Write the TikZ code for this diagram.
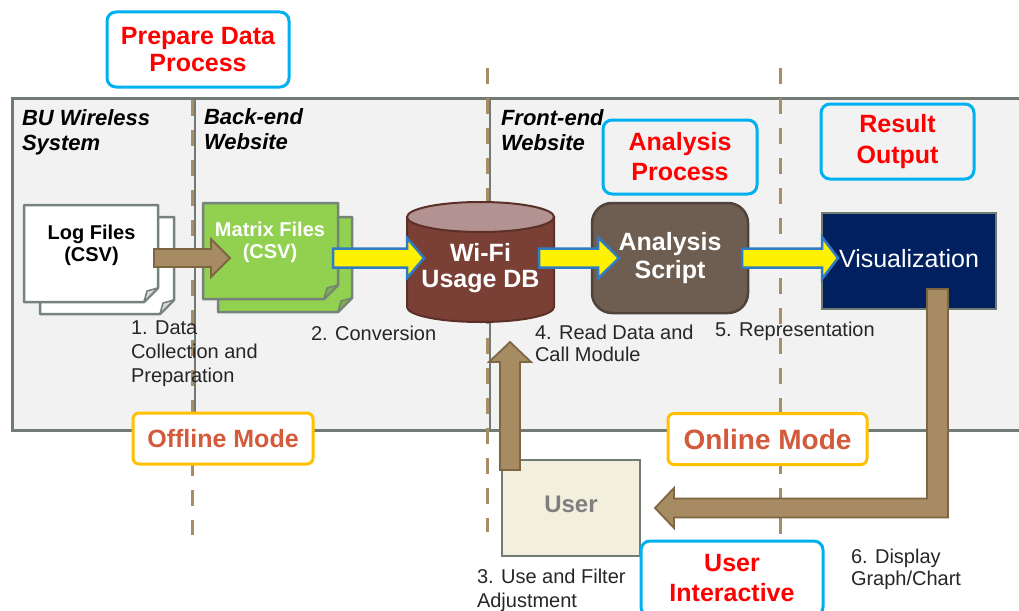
\documentclass[tikz,border=0pt]{standalone}
\usepackage{fontspec}
\setmainfont{Liberation Sans}
\usetikzlibrary{calc}
\definecolor{panelf}{HTML}{F2F2F2}
\definecolor{panelc}{HTML}{6F7B73}
\definecolor{dashc}{HTML}{A88D66}
\definecolor{tanc}{HTML}{A78B63}
\definecolor{tanb}{HTML}{7F6642}
\definecolor{bluec}{HTML}{2F7BC4}
\definecolor{cyanb}{HTML}{00B0F0}
\definecolor{orangeb}{HTML}{FFC000}
\definecolor{redt}{HTML}{FF0000}
\definecolor{modet}{HTML}{D45A3C}
\definecolor{greenf}{HTML}{92D050}
\definecolor{dbbody}{HTML}{7A4036}
\definecolor{dbtop}{HTML}{B39391}
\definecolor{dbline}{HTML}{5C3028}
\definecolor{scriptf}{HTML}{6E5E52}
\definecolor{scriptb}{HTML}{4F433B}
\definecolor{navyf}{HTML}{002060}
\definecolor{userf}{HTML}{F2EFDC}
\definecolor{usert}{HTML}{7F7F7F}
\definecolor{lblc}{HTML}{262626}
\definecolor{sheetc}{HTML}{76837B}
\tikzset{
  every node/.style={inner sep=0pt, outer sep=0pt},
  shapebox/.style={draw=none, rectangle},
  titlebox/.style={draw=cyanb, line width=3pt, rounded corners=9pt, text=redt, align=center},
  modebox/.style={draw=orangeb, fill=white, line width=3pt, rounded corners=6pt, text=modet},
  region/.style={font=\bfseries\itshape\fontsize{22}{25.5}\selectfont, align=left, anchor=north west},
  lbl/.style={text=lblc, align=left, anchor=north west},
  sheetline/.style={draw=sheetc, line width=2.5pt, line join=round},
  divgray/.style={draw=panelc, line width=2pt},
  divdash/.style={draw=dashc, line width=3.5pt, dash pattern=on 16pt off 14pt},
  yarrow/.style={fill=yellow, draw=bluec, line width=2.5pt, line join=miter},
  tarrow/.style={fill=tanc, draw=tanb, line width=1.8pt, line join=miter},
}
% folded sheet drawn on a named node
\newcommand\sheetdraw[2]{%
  \draw[sheetline, fill=#2] (#1.north west) -- (#1.north east) -- ([yshift=14pt]#1.south east)
     -- ([xshift=-14pt]#1.south east) -- (#1.south west) -- cycle;
  \draw[sheetline, fill=#2!85!black, line width=1.6pt] ([xshift=-14pt]#1.south east)
     .. controls ([xshift=-13pt,yshift=6pt]#1.south east) .. ([xshift=-11pt,yshift=11pt]#1.south east)
     .. controls ([xshift=-6pt,yshift=12pt]#1.south east) .. ([yshift=14pt]#1.south east) -- cycle;}
% right-pointing block arrow: style, start, tip, shaft half, head half, head length
\newcommand\rarrow[6]{%
  \path[#1] let \p1=(#2), \p2=(#3) in
    (\x1,{\y2+#4pt}) -- ({\x2-#6pt},{\y2+#4pt}) -- ({\x2-#6pt},{\y2+#5pt}) -- (\x2,\y2)
    -- ({\x2-#6pt},{\y2-#5pt}) -- ({\x2-#6pt},{\y2-#4pt}) -- (\x1,{\y2-#4pt}) -- cycle;}
\begin{document}
\begin{tikzpicture}[x=1pt,y=-1pt]
\useasboundingbox (0,0) rectangle (1019,610);
\clip (0,0) rectangle (1019,610);
% panel
\path[fill=panelf] (1030,98) rectangle (12,430);
\draw[draw=panelc, line width=3pt] (1030,98) -- (12,98) -- (12,430) -- (1030,430);
% dividers
\draw[divgray] (194.5,98) -- (194.5,430);
\draw[divgray] (489.5,98) -- (489.5,430);
\draw[divdash] (192.5,100) -- (192.5,535);
\draw[divdash] (487.7,68) -- (487.7,532);
\draw[divdash] (780.3,68) -- (780.3,537);

% title boxes
\node[titlebox, font=\bfseries\fontsize{25}{27}\selectfont, minimum width=182pt, minimum height=75pt] (prep) at (198,49.5) {Prepare Data\\Process};
\node[titlebox, font=\bfseries\fontsize{25}{30}\selectfont, minimum width=154pt, minimum height=74pt] (anal) at (680,157) {Analysis\\Process};
\node[titlebox, font=\bfseries\fontsize{25}{31}\selectfont, minimum width=153pt, minimum height=75pt] (result) at (897.5,141.5) {Result\\Output};

% region titles
\node[region] (bu) at (22,109.2) {BU Wireless\\System};
\node[region, font=\bfseries\itshape\fontsize{22}{25}\selectfont] (back) at (204,108.7) {Back-end\\Website};
\node[region, font=\bfseries\itshape\fontsize{22}{25}\selectfont] (front) at (501,109.2) {Front-end\\Website};

% file sheets
\node[shapebox, minimum width=134pt, minimum height=97pt, anchor=north west] (logb) at (40,217) {};
\node[shapebox, minimum width=134pt, minimum height=97pt, anchor=north west] (logf) at (24,205) {};
\node[shapebox, minimum width=134pt, minimum height=95pt, anchor=north west] (matb) at (218,217) {};
\node[shapebox, minimum width=135pt, minimum height=96pt, anchor=north west] (matf) at (203,203) {};
\sheetdraw{logb}{white}
\sheetdraw{logf}{white}
\sheetdraw{matb}{greenf}
\sheetdraw{matf}{greenf}
\node[font=\bfseries\fontsize{20}{22}\selectfont, align=center] (logtxt) at (91.5,245.7) {Log Files\\(CSV)};
\node[font=\bfseries\fontsize{20}{22}\selectfont, align=center, text=white] (mattxt) at (270,242) {Matrix Files\\(CSV)};

% database cylinder
\node[shapebox, minimum width=147pt, minimum height=120pt] (db) at (480.5,262) {};
\draw[draw=dbline, line width=2pt, fill=dbbody] ([yshift=-15pt]db.north west) -- ([yshift=15pt]db.south west)
   arc[start angle=180, end angle=360, x radius=73.5pt, y radius=15pt] -- ([yshift=-15pt]db.north east) -- cycle;
\draw[draw=dbline, line width=2pt, fill=dbtop] ([yshift=-15pt]db.north) ellipse [x radius=73.5pt, y radius=15pt];
\node[font=\bfseries\fontsize{25}{26}\selectfont, align=center, text=white] (dbtxt) at (480.5,268.5) {Wi-Fi\\Usage DB};

% analysis script
\node[draw=scriptb, fill=scriptf, line width=2.5pt, rounded corners=20pt, minimum width=156pt, minimum height=110pt,
      font=\bfseries\fontsize{25}{28}\selectfont, align=center, text=white] (script) at (670,258) {Analysis\\Script};

% visualization
\node[draw=panelc, fill=navyf, line width=2.5pt, minimum width=174pt, minimum height=96pt,
      font=\fontsize{25}{28}\selectfont, text=white, text depth=6pt] (vis) at (909,261) {Visualization};

% user
\node[draw=panelc, fill=userf, line width=2.5pt, minimum width=138pt, minimum height=96pt,
      font=\bfseries\fontsize{24}{28}\selectfont, text=usert, text depth=7pt] (user) at (571,508) {User};

% mode boxes
\node[modebox, font=\bfseries\fontsize{25}{28}\selectfont, minimum width=180pt, minimum height=51pt] (offline) at (223,438.5) {Offline Mode};
\node[modebox, font=\bfseries\fontsize{28}{30}\selectfont, minimum width=199pt, minimum height=51pt] (online) at (767.5,439) {Online Mode};

% user interactive box
\node[titlebox, fill=white, font=\bfseries\fontsize{25}{30}\selectfont, minimum width=182pt, minimum height=75pt] (ui) at (732,578.5) {User\\Interactive};

% arrows
\rarrow{tarrow}{$(logf.east)+(-4,4.5)$}{$(matf.west)+(27,7)$}{9}{19}{19}
\rarrow{yarrow}{$(matf.east)+(-5,0)$}{$(db.west)+(17,-4)$}{9.5}{20}{17}
\rarrow{yarrow}{$(db.east)+(-15,0)$}{$(script.west)+(27,0)$}{9.5}{20.5}{21}
\rarrow{yarrow}{$(script.east)+(-6,0)$}{$(vis.west)+(16,-3)$}{9.5}{21}{16}
\path[tarrow] let \p1=(vis.south), \p2=(user.east) in
  ({\x1+18pt},{\y1+20pt}) -- ({\x1+39pt},{\y1+20pt}) -- ({\x1+39pt},{\y2-9.5pt})
  -- ({\x2+34pt},{\y2-9.5pt}) -- ({\x2+34pt},{\y2-20pt}) -- ({\x2+15pt},\y2)
  -- ({\x2+34pt},{\y2+20pt}) -- ({\x2+34pt},{\y2+9.5pt}) -- ({\x1+18pt},{\y2+9.5pt}) -- cycle;
\path[tarrow] let \p1=(user.north west), \p2=(db.south) in
  ({\x1-2pt},{\y1-10pt}) -- ({\x1+18pt},{\y1-10pt}) -- ({\x1+18pt},{\y2-40pt})
  -- ({\x1+29pt},{\y2-40pt}) -- ({\x1+8pt},{\y2-20pt}) -- ({\x1-13pt},{\y2-40pt})
  -- ({\x1-2pt},{\y2-40pt}) -- cycle;

% step labels
\node[lbl, font=\fontsize{20}{24}\selectfont] (l1) at (131,320.7) {1. Data\\Collection and\\Preparation};
\node[lbl, font=\fontsize{20}{24}\selectfont] (l2) at (311,325.7) {2. Conversion};
\node[lbl, font=\fontsize{20}{22}\selectfont] (l4) at (535,324.7) {4. Read Data and\\Call Module};
\node[lbl, font=\fontsize{20}{24}\selectfont] (l5) at (715,322.4) {5. Representation};
\node[lbl, font=\fontsize{20}{24}\selectfont] (l3) at (477,568.7) {3. Use and Filter\\Adjustment};
\node[lbl, font=\fontsize{20}{22}\selectfont] (l6) at (851,548.7) {6. Display\\Graph/Chart};
\end{tikzpicture}
\end{document}
